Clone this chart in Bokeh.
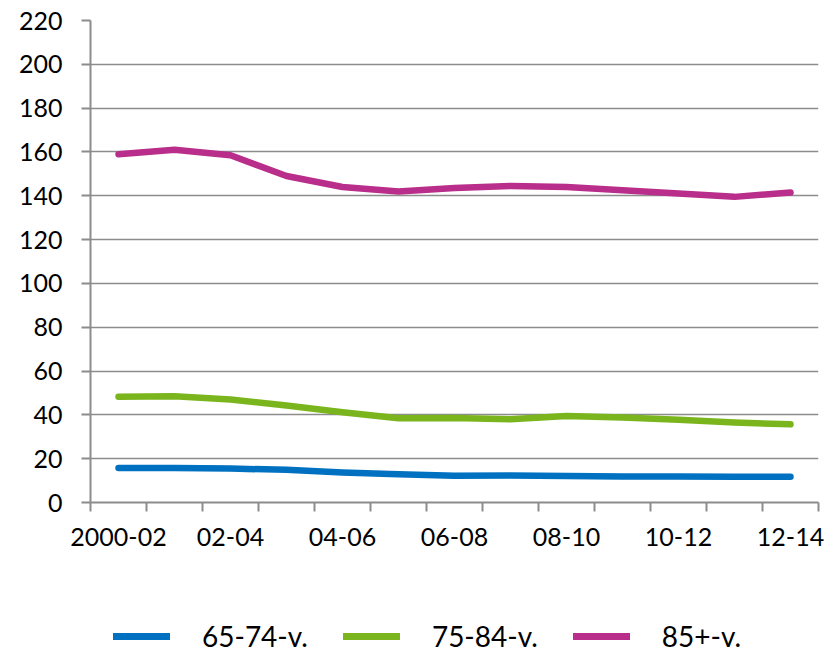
from bokeh.plotting import figure
from bokeh.models import FixedTicker, Legend, LegendItem, Range1d
from bokeh.layouts import column
from bokeh.embed import file_html
from bokeh.resources import INLINE

# ---- data ----
periods = ["2000-02", "01-03", "02-04", "03-05", "04-06", "05-07", "06-08",
           "07-09", "08-10", "09-11", "10-12", "11-13", "12-14"]
age_65_74 = [15.7, 15.7, 15.5, 14.9, 13.7, 12.9, 12.2, 12.3, 12.1, 11.9, 11.9, 11.8, 11.8]
age_75_84 = [48.3, 48.5, 47.0, 44.3, 41.2, 38.5, 38.6, 38.0, 39.5, 38.8, 37.8, 36.5, 35.7]
age_85p = [159.0, 161.0, 158.5, 149.0, 144.0, 142.0, 143.5, 144.5, 144.0, 142.5, 141.0, 139.5, 141.5]
series_names = ["65-74-v.", "75-84-v.", "85+-v."]
series_colors = ["#0070C0", "#7AB51D", "#B82E8A"]
y_ticks = list(range(0, 221, 20))

FONT = "Lato"
GRAY = "#8C8C8C"
LW = 6.5

x = list(range(1, len(periods) + 1))
label_pos = x[::2]
series = [age_65_74, age_75_84, age_85p]

p = figure(width=839, height=590, output_backend="svg", toolbar_location=None,
           x_range=(0.5, len(periods) + 0.5), y_range=(0, 220),
           min_border_left=90, min_border_right=21, min_border_top=20,
           min_border_bottom=88)
p.outline_line_color = None
p.background_fill_color = "white"
p.border_fill_color = "white"

# y axis
p.yaxis.ticker = FixedTicker(ticks=y_ticks)
p.yaxis.axis_line_color = GRAY
p.yaxis.axis_line_width = 2
p.yaxis.major_tick_line_color = GRAY
p.yaxis.major_tick_line_width = 2
p.yaxis.major_tick_out = 9
p.yaxis.major_tick_in = 0
p.yaxis.minor_tick_line_color = None
p.yaxis.major_label_standoff = 19
p.yaxis.major_label_text_font = FONT
p.yaxis.major_label_text_font_size = "25px"
p.yaxis.major_label_text_color = "black"

# x axis: labels at every other category, ticks at category boundaries
p.xaxis.ticker = FixedTicker(ticks=label_pos,
                             minor_ticks=[i + 0.5 for i in range(0, len(periods) + 1)])
p.xaxis.major_label_overrides = {i: periods[i - 1] for i in label_pos}
p.xaxis.axis_line_color = GRAY
p.xaxis.axis_line_width = 2
p.xaxis.major_tick_line_color = None
p.xaxis.minor_tick_line_color = GRAY
p.xaxis.minor_tick_line_width = 2
p.xaxis.minor_tick_out = 9
p.xaxis.minor_tick_in = 0
p.xaxis.major_tick_out = 9
p.xaxis.major_label_standoff = 16
p.xaxis.major_label_text_font = FONT
p.xaxis.major_label_text_font_size = "25px"
p.xaxis.major_label_text_color = "black"

p.xgrid.grid_line_color = None
p.ygrid.ticker = FixedTicker(ticks=y_ticks)
p.ygrid.grid_line_color = GRAY
p.ygrid.grid_line_width = 1.5

for vals, col in zip(series, series_colors):
    p.line(x, vals, line_color=col, line_width=LW,
           line_cap="round", line_join="round")

# ---- legend strip below the chart ----
pl = figure(width=839, height=63, output_backend="svg", toolbar_location=None,
            x_axis_location=None, y_axis_location=None,
            x_range=Range1d(100, 101), y_range=Range1d(100, 101), min_border=0)
pl.outline_line_color = None
pl.grid.grid_line_color = None
leg_renderers = []
for vals, col in zip(series, series_colors):
    r = pl.line(x, vals, line_color=col, line_width=LW + 0.5,
                line_cap="round", line_join="round")
    leg_renderers.append(r)

legend = Legend(items=[LegendItem(label=n, renderers=[r]) for n, r in zip(series_names, leg_renderers)],
                orientation="horizontal", location=(23, 0),
                padding=0, margin=0, spacing=35, glyph_width=57, glyph_height=24,
                label_height=24, label_standoff=32,
                label_text_font=FONT, label_text_font_size="28px",
                label_text_color="black",
                border_line_color=None, background_fill_alpha=0)
pl.add_layout(legend, "center")

layout = column(p, pl, spacing=0)
open("out.html", "w").write(file_html(layout, INLINE))
